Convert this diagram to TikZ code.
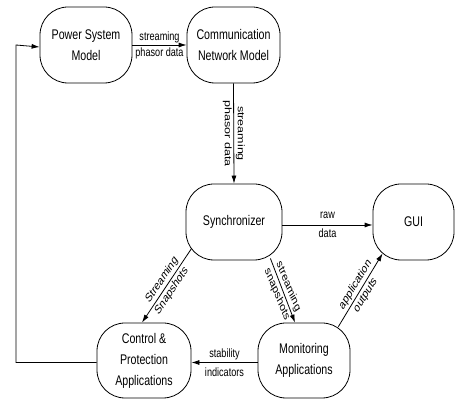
\documentclass[tikz,border=0pt]{standalone}
\usepackage{fontspec}
\setmainfont{Liberation Sans}
\newfontfamily\boxfont{Liberation Sans}[FakeStretch=0.76]
\usetikzlibrary{arrows.meta,calc}
\begin{document}
\begin{tikzpicture}[x=1pt,y=1pt,
  box/.style={draw, line width=0.8pt, rounded corners=28pt, align=center,
    font=\boxfont\fontsize{14}{21}\selectfont, inner sep=0pt, minimum height=76pt},
  arr/.style={draw, line width=0.8pt, -{Latex[length=8pt,width=5pt]}},
  lbl/.style={align=center, font=\fontsize{12}{16}\selectfont, inner sep=0pt, xscale=0.76},
  rlbl/.style={lbl, font=\fontsize{12.5}{17}\selectfont}]
\useasboundingbox (0,0) rectangle (456,399);
\node[box, minimum width=92pt] (psm) at (86,354) {Power System\\Model};
\node[box, minimum width=93pt] (cnm) at (233.5,354) {Communication\\Network Model};
\node[box, minimum width=96pt] (sync) at (234,177) {Synchronizer};
\node[box, minimum width=81pt] (gui) at (413.5,177) {GUI};
\node[box, minimum width=94pt, minimum height=75pt] (cpa) at (144,38.5) {Control \&\\Protection\\Applications};
\node[box, minimum width=92pt, minimum height=75pt] (mon) at (304,38.5) {Monitoring\\Applications};

\draw[arr] (psm.east) -- node[lbl] {streaming\\phasor data} (cnm.west);
\draw[arr] (cnm.south) -- node[rlbl, rotate=-90] {streaming\\phasor data} (sync.north);
\draw[arr] ($(sync.east)+(0,-3)$) -- node[lbl, font=\fontsize{12}{19}\selectfont] {raw\\data} ($(gui.west)+(0,-3)$);
\draw[arr] ($(sync.south west)+(6,12)$) -- node[rlbl, rotate=48.4] {Streaming\\Snapshots} ($(cpa.north)+(-2,0)$);
\draw[arr] ($(sync.south east)+(-12,2)$) -- node[rlbl, rotate=-62] {streaming\\snapshots} ($(mon.north)+(-9,0)$);
\draw[arr] ($(mon.north east)+(-12,-4)$) -- node[rlbl, rotate=51.3] {application\\outputs} ($(gui.south west)+(10,7)$);
\draw[arr] ($(mon.west)+(0,-2)$) -- node[lbl, font=\fontsize{12}{19}\selectfont] {stability\\indicators} ($(cpa.east)+(0,-2)$);
\coordinate (fb) at (16,0);
\draw[arr] ($(cpa.west)+(0,-2)$) -| (fb |- psm.west) -- ($(psm.west)+(0,-2)$);
\end{tikzpicture}
\end{document}
